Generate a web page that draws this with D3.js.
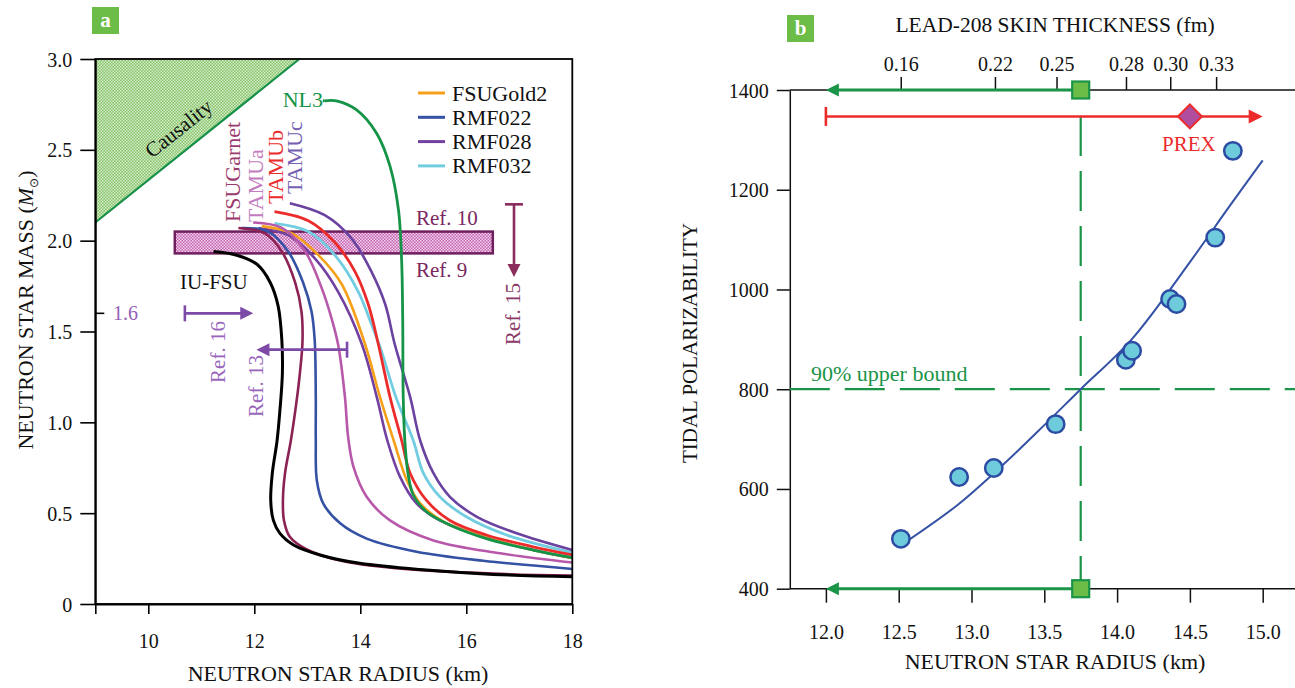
<!DOCTYPE html>
<html>
<head>
<meta charset="utf-8">
<script src="https://cdn.jsdelivr.net/npm/d3@7"></script>
<style>
  body { margin: 0; background: #fff; }
  svg text { font-family: "Liberation Serif", "DejaVu Serif", serif; }
</style>
</head>
<body>
<div id="chart"></div>
<script>
// ---------- panel a data: mass-radius curves [radius km, mass Msun] ----------
const iufsu     = [[11.23,1.94],[11.67,1.92],[12.05,1.87],[12.30,1.77],[12.45,1.64],[12.52,1.45],[12.53,1.27],[12.49,1.09],[12.43,0.90],[12.34,0.72],[12.31,0.57],[12.36,0.46],[12.48,0.39],[12.74,0.325],[13.24,0.27],[13.99,0.224],[15.25,0.187],[16.51,0.163],[18.0,0.15]];
const fsugarnet = [[11.70,2.07],[12.20,2.04],[12.52,1.94],[12.77,1.77],[12.89,1.61],[12.91,1.45],[12.86,1.27],[12.79,1.10],[12.69,0.90],[12.58,0.72],[12.54,0.57],[12.56,0.46],[12.67,0.37],[12.99,0.30],[13.68,0.235],[14.62,0.199],[16.5,0.167],[18.0,0.156]];
const rmf022    = [[11.76,2.07],[12.26,2.05],[12.64,1.94],[12.92,1.77],[13.08,1.61],[13.14,1.45],[13.16,1.14],[13.16,0.90],[13.18,0.68],[13.30,0.554],[13.62,0.444],[14.12,0.36],[15.06,0.288],[16.32,0.238],[18.0,0.193]];
const tamua     = [[11.98,2.10],[12.52,2.07],[12.96,1.94],[13.27,1.74],[13.46,1.57],[13.58,1.43],[13.71,1.14],[13.77,0.92],[13.87,0.756],[14.12,0.59],[14.56,0.46],[15.38,0.35],[16.64,0.279],[18.0,0.228]];
const rmf028    = [[12.08,2.07],[12.64,2.03],[13.15,1.90],[13.58,1.72],[14.03,1.43],[14.31,1.14],[14.51,0.90],[14.75,0.70],[15.06,0.554],[15.50,0.46],[16.32,0.37],[17.26,0.297],[18.0,0.253]];
const fsugold2  = [[12.14,2.08],[12.71,2.04],[13.21,1.92],[13.65,1.76],[14.09,1.43],[14.37,1.14],[14.63,0.90],[14.88,0.68],[15.13,0.554],[15.57,0.453],[16.32,0.37],[17.26,0.297],[18.0,0.253]];
const rmf032    = [[12.38,2.095],[13.02,2.05],[13.52,1.92],[13.96,1.72],[14.21,1.54],[14.39,1.40],[14.67,1.14],[15.0,0.90],[15.19,0.72],[15.5,0.59],[16.0,0.48],[16.76,0.38],[18.0,0.283]];
const tamub     = [[12.38,2.16],[13.02,2.11],[13.52,1.99],[13.90,1.83],[14.15,1.65],[14.34,1.43],[14.56,1.14],[14.78,0.90],[14.94,0.72],[15.25,0.57],[15.69,0.46],[16.38,0.38],[17.26,0.315],[18.0,0.27]];
const tamuc     = [[12.67,2.206],[13.33,2.14],[13.84,2.01],[14.21,1.83],[14.47,1.65],[14.65,1.43],[14.94,1.14],[15.13,0.90],[15.38,0.72],[15.69,0.59],[16.2,0.48],[16.95,0.389],[18.0,0.297]];
const nl3       = [[13.33,2.77],[13.55,2.77],[13.93,2.72],[14.31,2.59],[14.56,2.41],[14.72,2.17],[14.78,1.89],[14.80,1.58],[14.81,1.14],[14.84,0.90],[14.90,0.72],[15.0,0.6],[15.25,0.508],[15.69,0.435],[16.38,0.36],[17.26,0.297],[18.0,0.255]];

const radiusTicksA = [9, 10, 12, 14, 16, 18];
const massTicksA = [0, 0.5, 1.0, 1.5, 2.0, 2.5, 3.0];
const legendNames = ["FSUGold2", "RMF022", "RMF028", "RMF032"];
const causality = [[9, 3.0], [9, 2.1], [12.85, 3.0]];
const band = {r0: 10.5, r1: 16.5, m0: 1.93, m1: 2.05};
const ref16 = {r0: 10.69, r1: 11.98, m: 1.6};
const ref13 = {r0: 13.75, r1: 12.04, m: 1.4};
const ref15 = {r: 16.9, m0: 2.2, m1: 1.8};

// ---------- panel b data ----------
const radiusTicksB = [12.0, 12.5, 13.0, 13.5, 14.0, 14.5, 15.0];
const polTicksB = [400, 600, 800, 1000, 1200, 1400];
const skinLabels = ["0.16", "0.22", "0.25", "0.28", "0.30", "0.33"];
const skinRadii = [12.514, 13.161, 13.584, 14.061, 14.365, 14.680];
const modelRadius = [12.515, 12.915, 13.153, 13.578, 14.06, 14.103, 14.364, 14.408, 14.674, 14.795];
const modelPol    = [500, 624, 642, 730, 859, 877, 981, 971, 1104, 1278];
const fitRadius = [12.55, 12.9, 13.2, 13.5, 13.75, 14.1, 14.5, 14.77, 15.0];
const fitPol    = [494, 567, 644, 728, 800, 900, 1055, 1166, 1259];
const ligoRadius = 13.75, ligoPol = 800;
const prex = {r0: 12.0, r1: 15.0, r: 14.5, pol: 1347};

const W = 1295, H = 688;
const svg = d3.select("#chart").append("svg").attr("width", W).attr("height", H);
const defs = svg.append("defs");

// checker patterns
const pg = defs.append("pattern").attr("id", "greenChk").attr("patternUnits", "userSpaceOnUse").attr("width", 3).attr("height", 3);
pg.append("rect").attr("width", 3).attr("height", 3).attr("fill", "#86c46b");
pg.append("rect").attr("width", 1.5).attr("height", 1.5).attr("fill", "#d6ecc9");
pg.append("rect").attr("x", 1.5).attr("y", 1.5).attr("width", 1.5).attr("height", 1.5).attr("fill", "#d6ecc9");
const pp = defs.append("pattern").attr("id", "pinkChk").attr("patternUnits", "userSpaceOnUse").attr("width", 3).attr("height", 3);
pp.append("rect").attr("width", 3).attr("height", 3).attr("fill", "#c25caf");
pp.append("rect").attr("width", 1.5).attr("height", 1.5).attr("fill", "#f4daee");
pp.append("rect").attr("x", 1.5).attr("y", 1.5).attr("width", 1.5).attr("height", 1.5).attr("fill", "#f4daee");

// ===================== PANEL A =====================
const xA = d3.scaleLinear().domain([9, 18]).range([95.3, 572.3]);
const yA = d3.scaleLinear().domain([0, 3]).range([604, 59]);
const gA = svg.append("g");

// causality triangle
gA.append("path")
  .attr("d", d3.line().x(d => xA(d[0])).y(d => yA(d[1]))(causality) + "Z")
  .attr("fill", "url(#greenChk)");
gA.append("line")
  .attr("x1", xA(causality[1][0])).attr("y1", yA(causality[1][1]))
  .attr("x2", xA(causality[2][0])).attr("y2", yA(causality[2][1]))
  .attr("stroke", "#17914a").attr("stroke-width", 2.2);
gA.append("text").attr("transform", "translate(183,134) rotate(-38.5)")
  .attr("text-anchor", "middle").attr("font-size", 21).attr("fill", "#111").text("Causality");

// Ref 9/10 band
gA.append("rect")
  .attr("x", xA(band.r0)).attr("y", yA(band.m1))
  .attr("width", xA(band.r1) - xA(band.r0)).attr("height", yA(band.m0) - yA(band.m1))
  .attr("fill", "url(#pinkChk)").attr("stroke", "#6e1f5c").attr("stroke-width", 2.5);

// curves
const lineA = d3.line().x(d => xA(d[0])).y(d => yA(d[1])).curve(d3.curveCatmullRom.alpha(0.5));
const curves = [
  {pts: rmf028, color: "#7140a0", w: 2.6},
  {pts: fsugold2, color: "#f6a01a", w: 2.6},
  {pts: rmf032, color: "#72cde0", w: 2.8},
  {pts: tamub, color: "#ec2b2b", w: 2.8},
  {pts: tamuc, color: "#6a42a0", w: 2.6},
  {pts: nl3, color: "#159447", w: 2.8},
  {pts: tamua, color: "#b858aa", w: 2.6},
  {pts: rmf022, color: "#3451a4", w: 2.6},
  {pts: fsugarnet, color: "#8b2253", w: 2.6},
  {pts: iufsu, color: "#000", w: 3}
];
curves.forEach(c => {
  gA.append("path").datum(c.pts)
    .attr("fill", "none").attr("stroke", c.color).attr("stroke-width", c.w)
    .attr("d", lineA);
});
// NL3 lead-in line to its label
gA.append("line").attr("x1", xA(13.33) - 2).attr("x2", xA(13.33)).attr("y1", yA(2.77)).attr("y2", yA(2.77))
  .attr("stroke", "#159447").attr("stroke-width", 2.8);

// frame
gA.append("rect").attr("x", xA(9)).attr("y", yA(3)).attr("width", xA(18) - xA(9)).attr("height", yA(0) - yA(3))
  .attr("fill", "none").attr("stroke", "#000").attr("stroke-width", 1.8);

// axes
const axLA = gA.append("g").attr("transform", `translate(${xA(9)},0)`)
  .call(d3.axisLeft(yA).tickValues(massTicksA).tickSize(15).tickSizeOuter(0).tickPadding(8)
    .tickFormat(d => d === 0 ? "0" : d.toFixed(1)));
const axBA = gA.append("g").attr("transform", `translate(0,${yA(0)})`)
  .call(d3.axisBottom(xA).tickValues(radiusTicksA).tickSize(10).tickSizeOuter(0).tickPadding(20)
    .tickFormat(d => d === 9 ? "" : d));
[axLA, axBA].forEach(ax => {
  ax.select(".domain").attr("stroke-width", 1.8);
  ax.selectAll(".tick line").attr("stroke-width", 1.6);
  ax.selectAll("text").attr("font-size", 20).attr("fill", "#111").style("font-family", '"Liberation Serif", serif');
});
axLA.selectAll("text").attr("dy", "0.35em");

// 1.6 tick
gA.append("line").attr("x1", xA(9)).attr("x2", xA(9) + 9).attr("y1", yA(1.6)).attr("y2", yA(1.6))
  .attr("stroke", "#000").attr("stroke-width", 1.6);
gA.append("text").attr("x", 113).attr("y", yA(1.6) + 7).attr("font-size", 20).attr("fill", "#9463b8").text("1.6");

// axis titles
gA.append("text").attr("x", 338).attr("y", 681).attr("text-anchor", "middle").attr("font-size", 22).attr("fill", "#111")
  .text("NEUTRON STAR RADIUS (km)");
const yt = gA.append("text").attr("transform", "translate(33,310) rotate(-90)").attr("text-anchor", "middle")
  .attr("font-size", 22).attr("fill", "#111");
yt.append("tspan").text("NEUTRON STAR MASS (");
yt.append("tspan").attr("font-style", "italic").text("M");
yt.append("tspan").attr("font-size", 12).attr("dy", 5).style("font-family", '"DejaVu Sans", sans-serif').text("\u2299");
yt.append("tspan").attr("dy", -5).text(")");

// arrows
function arrowH(g, x0, x1, y, color) {
  const dir = Math.sign(x1 - x0);
  g.append("line").attr("x1", x0).attr("x2", x1 - dir * 10).attr("y1", y).attr("y2", y)
    .attr("stroke", color).attr("stroke-width", 2.6);
  g.append("line").attr("x1", x0).attr("x2", x0).attr("y1", y - 8).attr("y2", y + 8)
    .attr("stroke", color).attr("stroke-width", 2.6);
  g.append("path").attr("d", `M${x1},${y} L${x1 - dir * 13},${y - 6.5} L${x1 - dir * 13},${y + 6.5} Z`).attr("fill", color);
}
arrowH(gA, xA(ref16.r0), xA(ref16.r1), yA(ref16.m), "#7d4aa8");
arrowH(gA, xA(ref13.r0), xA(ref13.r1), yA(ref13.m), "#7d4aa8");
// Ref 15 vertical
{
  const x = xA(ref15.r), y0 = yA(ref15.m0), y1 = yA(ref15.m1), c = "#8a2c5c";
  gA.append("line").attr("x1", x).attr("x2", x).attr("y1", y0).attr("y2", y1 - 10).attr("stroke", c).attr("stroke-width", 2.6);
  gA.append("line").attr("x1", x - 9).attr("x2", x + 9).attr("y1", y0).attr("y2", y0).attr("stroke", c).attr("stroke-width", 2.6);
  gA.append("path").attr("d", `M${x},${y1} L${x - 6.5},${y1 - 13} L${x + 6.5},${y1 - 13} Z`).attr("fill", c);
}

// labels
const labA = [
  {t: "Ref. 16", tr: "translate(225,352) rotate(-90)", c: "#9966bb", a: "middle"},
  {t: "Ref. 13", tr: "translate(263,386) rotate(-90)", c: "#9966bb", a: "middle"},
  {t: "Ref. 15", tr: "translate(520,314) rotate(-90)", c: "#8a3a68", a: "middle"},
  {t: "FSUGarnet", tr: "translate(240,222) rotate(-90)", c: "#9a3b6e", a: "start", s: 22},
  {t: "TAMUa", tr: "translate(263,222) rotate(-90)", c: "#c47cc0", a: "start", s: 22},
  {t: "TAMUb", tr: "translate(283,204) rotate(-90)", c: "#ea2c2c", a: "start", s: 22},
  {t: "TAMUc", tr: "translate(302,194) rotate(-90)", c: "#7461b2", a: "start", s: 22},
  {t: "Ref. 10", tr: "translate(416,225)", c: "#7a285f", a: "start"},
  {t: "Ref. 9", tr: "translate(416,277)", c: "#7a285f", a: "start"},
  {t: "IU-FSU", tr: "translate(180,289)", c: "#111", a: "start"},
  {t: "NL3", tr: "translate(323,107)", c: "#159447", a: "end", s: 22}
];
labA.forEach(l => {
  gA.append("text").attr("transform", l.tr).attr("text-anchor", l.a)
    .attr("font-size", l.s || 21).attr("fill", l.c).text(l.t);
});

// legend
const legColors = ["#f6a01a", "#3451a4", "#7140a0", "#72cde0"];
legendNames.forEach((n, i) => {
  const y = 93 + i * 24.3;
  gA.append("line").attr("x1", 418).attr("x2", 445).attr("y1", y).attr("y2", y)
    .attr("stroke", legColors[i]).attr("stroke-width", 3);
  gA.append("text").attr("x", 452).attr("y", y + 7.5).attr("font-size", 22).attr("fill", "#111").text(n);
});

// panel tag
gA.append("rect").attr("x", 92).attr("y", 7).attr("width", 27).attr("height", 27).attr("fill", "#6cbd47");
gA.append("text").attr("x", 105.5).attr("y", 27).attr("text-anchor", "middle").attr("font-size", 21)
  .attr("font-weight", "bold").attr("fill", "#fff").text("a");

// ===================== PANEL B =====================
const xB = d3.scaleLinear().domain([12, 15]).range([825.9, 1262.7]);
const yB = d3.scaleLinear().domain([400, 1400]).range([588.7, 90]);
const gB = svg.append("g");
const leftB = xB(11.752);

// axes lines
gB.append("line").attr("x1", leftB).attr("x2", W).attr("y1", yB(1400)).attr("y2", yB(1400)).attr("stroke", "#111").attr("stroke-width", 1.5);
gB.append("line").attr("x1", leftB).attr("x2", W).attr("y1", yB(400)).attr("y2", yB(400)).attr("stroke", "#111").attr("stroke-width", 1.5);

const axL = gB.append("g").attr("transform", `translate(${leftB},0)`)
  .call(d3.axisLeft(yB).tickValues(polTicksB).tickSize(13).tickSizeOuter(0).tickPadding(8).tickFormat(d3.format("d")));
const axB = gB.append("g").attr("transform", `translate(0,${yB(400)})`)
  .call(d3.axisBottom(xB).tickValues(radiusTicksB).tickSize(14).tickSizeOuter(0).tickPadding(22).tickFormat(d3.format(".1f")));
const axT = gB.append("g").attr("transform", `translate(0,${yB(1400)})`)
  .call(d3.axisTop(xB).tickValues(skinRadii).tickSize(13).tickSizeOuter(0).tickPadding(6)
    .tickFormat((d, i) => skinLabels[i]));
axB.select(".domain").remove();
axT.select(".domain").remove();
[axL, axB, axT].forEach(ax => {
  ax.select(".domain").attr("stroke-width", 1.5).attr("stroke", "#111");
  ax.selectAll(".tick line").attr("stroke-width", 1.5).attr("stroke", "#111");
  ax.selectAll("text").attr("font-size", 20).attr("fill", "#111").style("font-family", '"Liberation Serif", serif');
});
axL.selectAll("text").attr("dy", "0.35em");

// titles
gB.append("text").attr("x", 1055).attr("y", 32).attr("text-anchor", "middle").attr("font-size", 21.5).attr("fill", "#111")
  .text("LEAD-208 SKIN THICKNESS (fm)");
gB.append("text").attr("x", 1055).attr("y", 669).attr("text-anchor", "middle").attr("font-size", 22).attr("fill", "#111")
  .text("NEUTRON STAR RADIUS (km)");
gB.append("text").attr("transform", "translate(697,343) rotate(-90)").attr("text-anchor", "middle").attr("font-size", 21).attr("fill", "#111")
  .text("TIDAL POLARIZABILITY");

// dashed LIGO bound lines
const green = "#1a9447";
gB.append("line").attr("x1", leftB).attr("x2", W).attr("y1", yB(ligoPol)).attr("y2", yB(ligoPol))
  .attr("stroke", green).attr("stroke-width", 2.2).attr("stroke-dasharray", "40,15");
gB.append("line").attr("x1", xB(ligoRadius)).attr("x2", xB(ligoRadius)).attr("y1", yB(1400) + 26).attr("y2", yB(400))
  .attr("stroke", green).attr("stroke-width", 2.2).attr("stroke-dasharray", "40,15");
gB.append("text").attr("x", 811).attr("y", 381).attr("font-size", 22).attr("fill", green).text("90% upper bound");

// green arrows with squares
[1400, 400].forEach(v => {
  const y = yB(v), x0 = xB(ligoRadius), x1 = xB(12.0);
  gB.append("line").attr("x1", x0).attr("x2", x1 + 10).attr("y1", y).attr("y2", y).attr("stroke", green).attr("stroke-width", 3);
  gB.append("path").attr("d", `M${x1},${y} L${x1 + 13},${y - 6.5} L${x1 + 13},${y + 6.5} Z`).attr("fill", green);
  gB.append("rect").attr("x", x0 - 8.5).attr("y", y - 8.5).attr("width", 17).attr("height", 17)
    .attr("fill", "#6cbd47").attr("stroke", green).attr("stroke-width", 2.2);
});

// PREX
{
  const red = "#ec2b2b", y = yB(prex.pol), x0 = xB(prex.r0), x1 = xB(prex.r1), xd = xB(prex.r);
  gB.append("line").attr("x1", x0).attr("x2", x1 - 10).attr("y1", y).attr("y2", y).attr("stroke", red).attr("stroke-width", 2.6);
  gB.append("line").attr("x1", x0).attr("x2", x0).attr("y1", y - 9.5).attr("y2", y + 9.5).attr("stroke", red).attr("stroke-width", 2.6);
  gB.append("path").attr("d", `M${x1},${y} L${x1 - 14},${y - 7} L${x1 - 14},${y + 7} Z`).attr("fill", red);
  gB.append("path").attr("d", `M${xd},${y - 12} L${xd + 12},${y} L${xd},${y + 12} L${xd - 12},${y} Z`)
    .attr("fill", "#b04d9f").attr("stroke", red).attr("stroke-width", 2);
  gB.append("text").attr("x", 1162).attr("y", 151).attr("font-size", 21).attr("fill", red).text("PREX");
}

// fit curve
const fit = fitRadius.map((r, i) => [r, fitPol[i]]);
gB.append("path").datum(fit)
  .attr("fill", "none").attr("stroke", "#3451a4").attr("stroke-width", 2)
  .attr("d", d3.line().x(d => xB(d[0])).y(d => yB(d[1])).curve(d3.curveCatmullRom.alpha(0.5)));

// model points
gB.selectAll(".pt").data(modelRadius.map((r, i) => [r, modelPol[i]])).enter()
  .append("ellipse").attr("class", "pt")
  .attr("cx", d => xB(d[0])).attr("cy", d => yB(d[1])).attr("rx", 8.7).attr("ry", 8.7)
  .attr("fill", "#6ecbdc").attr("stroke", "#2c4ba3").attr("stroke-width", 2.5);

// panel tag
gB.append("rect").attr("x", 787).attr("y", 15).attr("width", 27).attr("height", 27).attr("fill", "#6cbd47");
gB.append("text").attr("x", 800.5).attr("y", 35).attr("text-anchor", "middle").attr("font-size", 21)
  .attr("font-weight", "bold").attr("fill", "#fff").text("b");
</script>
</body>
</html>
